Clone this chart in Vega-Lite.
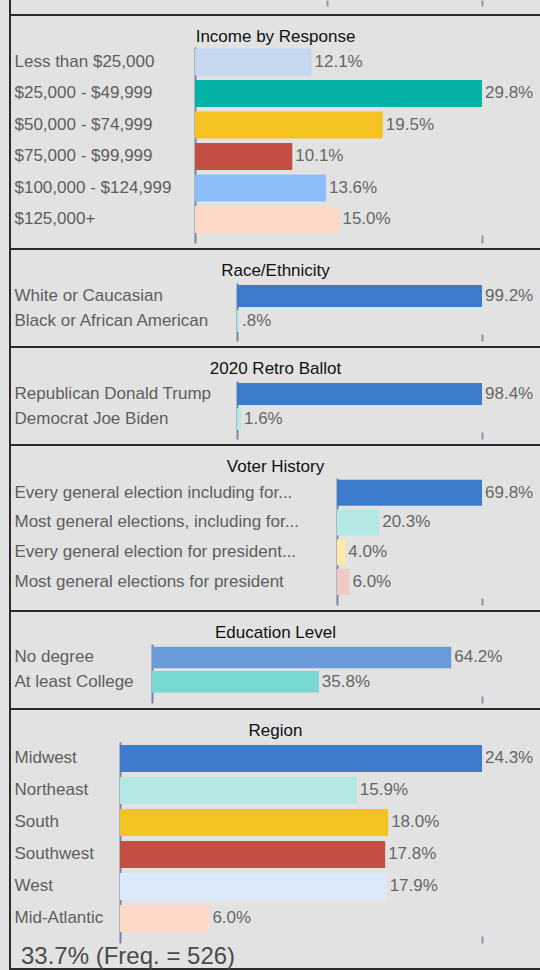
{
  "$schema": "https://vega.github.io/schema/vega-lite/v6.json",
  "background": "#e2e2e2",
  "padding": {"left": 9, "top": -2, "right": -2, "bottom": 0},
  "bounds": "flush",
  "spacing": 0,
  "resolve": {"scale": {"color": "independent", "x": "independent", "y": "independent"}},
  "title": {"text": "33.7% (Freq. = 526)", "orient": "bottom", "anchor": "start", "frame": "bounds", "offset": -25, "dx": 12, "fontSize": 24, "font": "Liberation Sans", "fontWeight": "normal", "color": "#4a4a4a"},
  "datasets": {
    "income": [
      {"label": "Less than $25,000", "value": 12.1, "pct": "12.1%"},
      {"label": "$25,000 - $49,999", "value": 29.8, "pct": "29.8%"},
      {"label": "$50,000 - $74,999", "value": 19.5, "pct": "19.5%"},
      {"label": "$75,000 - $99,999", "value": 10.1, "pct": "10.1%"},
      {"label": "$100,000 - $124,999", "value": 13.6, "pct": "13.6%"},
      {"label": "$125,000+", "value": 15.0, "pct": "15.0%"}
    ],
    "race": [
      {"label": "White or Caucasian", "value": 99.2, "pct": "99.2%"},
      {"label": "Black or African American", "value": 0.8, "pct": ".8%"}
    ],
    "ballot": [
      {"label": "Republican Donald Trump", "value": 98.4, "pct": "98.4%"},
      {"label": "Democrat Joe Biden", "value": 1.6, "pct": "1.6%"}
    ],
    "voter": [
      {"label": "Every general election including for...", "value": 69.8, "pct": "69.8%"},
      {"label": "Most general elections, including for...", "value": 20.3, "pct": "20.3%"},
      {"label": "Every general election for president...", "value": 4.0, "pct": "4.0%"},
      {"label": "Most general elections for president", "value": 6.0, "pct": "6.0%"}
    ],
    "education": [
      {"label": "No degree", "value": 64.2, "pct": "64.2%"},
      {"label": "At least College", "value": 35.8, "pct": "35.8%"}
    ],
    "region": [
      {"label": "Midwest", "value": 24.3, "pct": "24.3%"},
      {"label": "Northeast", "value": 15.9, "pct": "15.9%"},
      {"label": "South", "value": 18.0, "pct": "18.0%"},
      {"label": "Southwest", "value": 17.8, "pct": "17.8%"},
      {"label": "West", "value": 17.9, "pct": "17.9%"},
      {"label": "Mid-Atlantic", "value": 6.0, "pct": "6.0%"}
    ]
  },
  "vconcat": [
    {
      "width": 531, "height": 16,
      "data": {"values": [{}]},
      "mark": {"type": "rule", "opacity": 0},
      "encoding": {
        "x": {"datum": 0, "type": "quantitative", "scale": {"domain": [0, 1], "range": [317, 472], "nice": false}, "axis": {"values": [0, 1], "offset": -9, "tickSize": -6}}
      }
    },
    {
      "width": 531, "height": 234,
      "title": {"text": "Income by Response"},
      "data": {"name": "income"},
      "encoding": {
        "y": {"field": "label", "type": "nominal", "sort": null, "scale": {"range": [32, 228], "paddingInner": 0.143, "paddingOuter": 0.1825, "align": 0.13}, "axis": {"offset": -185, "labelPadding": 181}},
        "x": {"field": "value", "type": "quantitative", "scale": {"domain": [0, 29.8], "range": [185, 472], "nice": false}, "axis": {"values": [29.8], "offset": -6, "tickSize": -8}}
      },
      "layer": [
        {"mark": {"type": "bar"}, "encoding": {"color": {"field": "label", "type": "nominal", "sort": null, "legend": null, "scale": {"domain": ["Less than $25,000", "$25,000 - $49,999", "$50,000 - $74,999", "$75,000 - $99,999", "$100,000 - $124,999", "$125,000+"], "range": ["#c5d8ef", "#05b2a8", "#f4c322", "#c44e42", "#8cbdfb", "#fdd9c8"]}}}},
        {"mark": {"type": "text", "align": "left", "baseline": "middle", "dx": 3, "fontSize": 17, "font": "Liberation Sans", "color": "#666666"}, "encoding": {"text": {"field": "pct"}}}
      ]
    },
    {
      "width": 531, "height": 98,
      "title": {"text": "Race/Ethnicity"},
      "data": {"name": "race"},
      "encoding": {
        "y": {"field": "label", "type": "nominal", "sort": null, "scale": {"range": [34, 92], "paddingInner": 0.12, "paddingOuter": 0.22, "align": 0.18}, "axis": {"offset": -227, "labelPadding": 223}},
        "x": {"field": "value", "type": "quantitative", "scale": {"domain": [0, 99.2], "range": [227, 472], "nice": false}, "axis": {"values": [99.2], "offset": -6, "tickSize": -7}}
      },
      "layer": [
        {"mark": {"type": "bar"}, "encoding": {"color": {"field": "label", "type": "nominal", "sort": null, "legend": null, "scale": {"domain": ["White or Caucasian", "Black or African American"], "range": ["#3d7ccc", "#b3e8e4"]}}}},
        {"mark": {"type": "text", "align": "left", "baseline": "middle", "dx": 3, "fontSize": 17, "font": "Liberation Sans", "color": "#666666"}, "encoding": {"text": {"field": "pct"}}}
      ]
    },
    {
      "width": 531, "height": 98,
      "title": {"text": "2020 Retro Ballot"},
      "data": {"name": "ballot"},
      "encoding": {
        "y": {"field": "label", "type": "nominal", "sort": null, "scale": {"range": [34, 92], "paddingInner": 0.12, "paddingOuter": 0.22, "align": 0.18}, "axis": {"offset": -227, "labelPadding": 223}},
        "x": {"field": "value", "type": "quantitative", "scale": {"domain": [0, 98.4], "range": [227, 472], "nice": false}, "axis": {"values": [98.4], "offset": -6, "tickSize": -7}}
      },
      "layer": [
        {"mark": {"type": "bar"}, "encoding": {"color": {"field": "label", "type": "nominal", "sort": null, "legend": null, "scale": {"domain": ["Republican Donald Trump", "Democrat Joe Biden"], "range": ["#3d7ccc", "#b3e8e4"]}}}},
        {"mark": {"type": "text", "align": "left", "baseline": "middle", "dx": 3, "fontSize": 17, "font": "Liberation Sans", "color": "#666666"}, "encoding": {"text": {"field": "pct"}}}
      ]
    },
    {
      "width": 531, "height": 166,
      "title": {"text": "Voter History"},
      "data": {"name": "voter"},
      "encoding": {
        "y": {"field": "label", "type": "nominal", "sort": null, "scale": {"range": [33, 160], "paddingInner": 0.125, "paddingOuter": 0.2, "align": 0.15}, "axis": {"offset": -327, "labelPadding": 323}},
        "x": {"field": "value", "type": "quantitative", "scale": {"domain": [0, 69.8], "range": [327, 472], "nice": false}, "axis": {"values": [69.8], "offset": -6, "tickSize": -7}}
      },
      "layer": [
        {"mark": {"type": "bar"}, "encoding": {"color": {"field": "label", "type": "nominal", "sort": null, "legend": null, "scale": {"domain": ["Every general election including for...", "Most general elections, including for...", "Every general election for president...", "Most general elections for president"], "range": ["#3d7ccc", "#b3e8e4", "#fdeaa6", "#f2c9c4"]}}}},
        {"mark": {"type": "text", "align": "left", "baseline": "middle", "dx": 3, "fontSize": 17, "font": "Liberation Sans", "color": "#666666"}, "encoding": {"text": {"field": "pct"}}}
      ]
    },
    {
      "width": 531, "height": 98,
      "title": {"text": "Education Level"},
      "data": {"name": "education"},
      "encoding": {
        "y": {"field": "label", "type": "nominal", "sort": null, "scale": {"range": [33, 92], "paddingInner": 0.115, "paddingOuter": 0.27, "align": 0.2}, "axis": {"offset": -142, "labelPadding": 138}},
        "x": {"field": "value", "type": "quantitative", "scale": {"domain": [0, 70.8], "range": [142, 472], "nice": false}, "axis": {"values": [70.8], "offset": -6, "tickSize": -7}}
      },
      "layer": [
        {"mark": {"type": "bar"}, "encoding": {"color": {"field": "label", "type": "nominal", "sort": null, "legend": null, "scale": {"domain": ["No degree", "At least College"], "range": ["#6a9bd8", "#78d8d2"]}}}},
        {"mark": {"type": "text", "align": "left", "baseline": "middle", "dx": 3, "fontSize": 17, "font": "Liberation Sans", "color": "#666666"}, "encoding": {"text": {"field": "pct"}}}
      ]
    },
    {
      "width": 531, "height": 260,
      "title": {"text": "Region"},
      "data": {"name": "region"},
      "encoding": {
        "y": {"field": "label", "type": "nominal", "sort": null, "scale": {"range": [32.7, 234], "paddingInner": 0.156, "paddingOuter": 0.224, "align": 0.23}, "axis": {"offset": -110, "labelPadding": 106}},
        "x": {"field": "value", "type": "quantitative", "scale": {"domain": [0, 24.3], "range": [110, 472], "nice": false}, "axis": {"values": [24.3], "offset": -26, "tickSize": -7}}
      },
      "layer": [
        {"mark": {"type": "bar"}, "encoding": {"color": {"field": "label", "type": "nominal", "sort": null, "legend": null, "scale": {"domain": ["Midwest", "Northeast", "South", "Southwest", "West", "Mid-Atlantic"], "range": ["#3d7ccc", "#b3e8e4", "#f4c322", "#c44e42", "#dbe9fb", "#fdd9c8"]}}}},
        {"mark": {"type": "text", "align": "left", "baseline": "middle", "dx": 3, "fontSize": 17, "font": "Liberation Sans", "color": "#666666"}, "encoding": {"text": {"field": "pct"}}}
      ]
    }
  ],
  "config": {
    "view": {"stroke": "#2b2b2b", "strokeWidth": 2},
    "concat": {"spacing": 0},
    "title": {"fontSize": 17, "font": "Liberation Sans", "fontWeight": "normal", "color": "#111111", "anchor": "middle", "frame": "group", "offset": -31},
    "axisY": {"title": null, "grid": false, "ticks": false, "tickSize": 0, "domainColor": "#74869e", "domainWidth": 2, "labelAlign": "left", "labelBaseline": "middle", "labelFontSize": 17, "labelFont": "Liberation Sans", "labelColor": "#5e5e5e", "labelLimit": 0, "labelOverlap": false},
    "axisX": {"title": null, "grid": false, "labels": false, "domain": false, "ticks": true, "tickColor": "#8596ad", "tickWidth": 2}
  }
}
